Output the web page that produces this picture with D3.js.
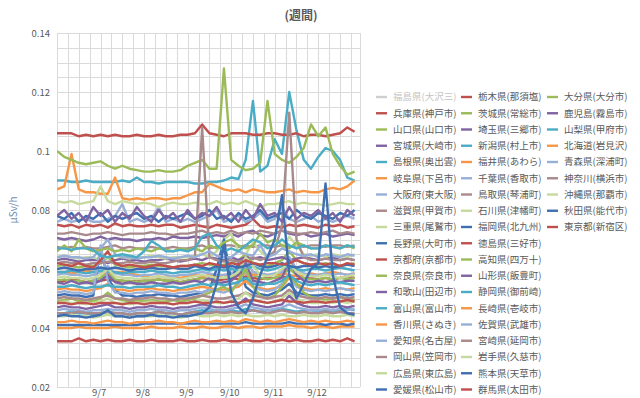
<!DOCTYPE html>
<html>
<head>
<meta charset="utf-8">
<script src="https://cdn.jsdelivr.net/npm/d3@7"></script>
<style>
  body { margin: 0; background: #fff; }
  text { font-family: "Noto Sans CJK JP", "Noto Sans", sans-serif; }
</style>
</head>
<body>
<svg id="chart" width="640" height="398"></svg>
<script>
// readings every 4 hours from 9/6 01:00, in nSv/h (= uSv/h x 1000)
var fukushima = [188,189,188,190,189,188, 189,192,190,189,188,188, 188,189,188,188,187,188, 188,189,190,189,190,193, 191,190,194,191,189,188, 189,191,195,190,189,188, 188,189,188,188,189,188];
var hyogo     = [75,74.5,75,74,75,74.5, 75,74,75.5,74.5,75,74.5, 74.5,75,74.5,75,75,74, 74.5,75,74.5,74,75,74.5, 74,74.5,75,77,74.5,74, 74.5,74,75,74.5,75,74.5, 74,75,74.5,75,74,74.5];
var yamaguchi = [61,61.5,61,60.5,61,61, 62,64,61.5,61,60.5,61, 61,61.5,61,61,60.5,61, 61,61.5,62,61.5,61,61.5, 62,63,65,62,61.5,61, 62,63,66,63,62,61.5, 61.5,62,61.5,61,61.5,62];
var miyagi    = [70.5,70,70.5,70,69.5,70, 71,70,70.5,70,70,69.5, 70,70,70.5,70,71,70.5, 70.5,71,70.5,71,71.5,71, 72,71,72.5,73,71.5,71, 72,73,72,71.5,72,71, 71.5,72,71,71.5,72,71.5];
var shimane   = [90,90,89.5,89.5,90,89.5, 89.5,89.5,89.5,90,89.5,91, 89.5,89.5,89,89.5,89.5,89.5, 89.5,89,89,89.5,89.5,90, 91,90.5,97,117,93,95, 104,99,120,107,97,94, 98,101,100,97,91,90];
var gifu      = [87,88,99,87,86,86, 85.5,85.5,91,84,83.5,84, 83.5,84,84,83.5,84,84, 85,86,86,89,88,87, 86.5,87,86,87,86.5,86, 86,86.5,87,86,86.5,86, 86,87,87.5,87,88,90];
var osaka     = [76,77,76,76.5,77,76, 76,77,78,82,76,77, 76,77,81,76,77,76, 77,76,77,78,80,76, 77,78,76,77,79,76, 77,81,77,76,77,78, 76,77,76,77,78,77];
var shiga     = [72,72,72.5,72,71.5,72, 72,72.5,72,71.5,72,72, 72,72.5,72,72,71.5,72, 72,72.5,73,72,72.5,72, 73,72,72.5,72,73,72.5, 72,73,72.5,72,72,72.5, 72,72.5,73,72,72.5,72];
var mie       = [83,82.5,83,82,82.5,83, 88,83,82,83,82.5,82, 82.5,82,81,82,82.5,82, 82,82.5,82,82,83,82, 82.5,82,83,82,81,82, 82,82.5,83,82,82.5,82, 82,81.5,82,82.5,82,82];
var nagano    = [78,77,79,76,78,77, 79,76,78,77,78,79, 77,78,76,78,77,78, 79,77,78,80,77,78, 76,79,77,78,80,77, 78,79,77,80,78,77, 79,78,77,79,78,80];
var kyoto     = [56,56,56.5,56,55.5,56, 56,56.5,56,56,55.5,56, 56,56,56.5,56,56,55.5, 56,56.5,57,56.5,56,56.5, 57,56.5,57.5,57,56.5,57, 57,57.5,57,56.5,57,57, 56.5,57,56.5,57,57.5,57];
var nara      = [56,56.5,56,56,55.5,56, 57,59,56.5,56,56,55.5, 56,56,56.5,56,56,55.5, 56,56.5,57,56.5,57,57, 57.5,58,60,58,57,56.5, 57,58,60,58,57,56.5, 56.5,57,56.5,57,56.5,57];
var wakayama  = [63,63.5,63,62.5,63,63, 63,62,63,63.5,63,63, 62.5,63,63,63.5,63,62.5, 63,63.5,63,64,63.5,63, 64,63,64,63.5,64,63, 63.5,64,63,63.5,64,63.5, 63,63.5,64,63,63.5,63];
var toyama    = [45,45,45.5,45,45,44.5, 45,45.5,45,45,44.5,45, 45,45,45.5,45,45,44.5, 45,45.5,46,45.5,46,45.5, 46,45.5,46.5,46,45.5,46, 46,46.5,46,45.5,46,46, 45.5,46,45.5,46,46.5,46];
var kagawa    = [59,59,58.5,59,59.5,59, 59,58.5,59,59,58.5,58, 57.5,57,57.5,57,57.5,57, 57.5,58,57.5,58,57.5,58, 58,57.5,58.5,58,58.5,58, 58,58.5,58,57.5,58,58.5, 58,58.5,59,58.5,58,58.5];
var aichi     = [58,58.5,58,58,57.5,58, 59,61,58.5,58,58,57.5, 58,58,58.5,58,57.5,58, 58,58.5,59,58.5,58,58, 58.5,60,63,59,58.5,58, 58.5,59,64,60,58.5,58, 58,58.5,58,58.5,58,58.5];
var okayama   = [67.5,67,67.5,67,67.5,67, 67,67.5,68,67,67.5,67, 67,67.5,67,67,67.5,67, 67,67.5,68,67,67.5,68, 68,67.5,68,67.5,68,68, 67.5,68,67.5,68,67.5,68, 68,67.5,68,68,67.5,68];
var hiroshima = [64,64.5,64,63.5,64,64, 63,64,64.5,64,63.5,64, 64,64.5,64,63.5,64,64, 64,64.5,65,64,66,70, 72,66,65,69,66,64, 65,67,71,68,65,64.5, 65,64,65,64.5,64,65];
var ehime     = [51,51.5,51,51,50.5,51, 67,57,53,51,51,50.5, 51,51,51.5,51,51,50.5, 51,51.5,52,53,60,70, 56,62,54,52,51.5,51, 52,53,55,52,51.5,51, 51,51.5,51,51.5,51,51.5];
var tochigi   = [106,106,106,105,105.5,105, 105.5,105,105.5,105,105,105.5, 105,105,105.5,105,105,105.5, 105.5,106,109,106,105.5,105, 106,106,106,105.5,105.5,106, 106,105.5,105.5,106,105,105.5, 105.5,105,105.5,106,108,106.5];
var ibaraki   = [100,98,97,96,95.5,96, 96.5,95,94,95,94,93.5, 93,93,93.5,93,93,93.5, 95,96,97,94,94,128, 97,95,93.5,94,96,117, 99,97,96,98,101,109, 105,108,99,95,92,93];
var saitama   = [55.5,55,56,55,55.5,55, 56,58,55.5,55,55.5,55, 55,55.5,55,55,55.5,55, 55.5,56,55.5,57,55,55.5, 56,58,62,56,55.5,55, 56,57,63,58,56,55.5, 56,55.5,56,55.5,56,56];
var niigata   = [59,59,59.5,59,58.5,59, 59.5,59,59,58.5,59,59, 59,59.5,59,59,58.5,59, 59,59.5,60,59.5,60,59.5, 60,59.5,60,61,60,59.5, 60,61,60.5,60,59.5,60, 60,59.5,60,60.5,60,59.5];
var fukui     = [53,53.5,53,53,52.5,53, 53.5,55,53,53,52.5,53, 53,53.5,53,53,52.5,53, 53,53.5,54,53.5,53,53, 53.5,54,56,54,53.5,53, 53.5,54,57,55,53.5,53, 53,53.5,53,53.5,53,53.5];
var chiba     = [52,52.5,52,52,51.5,52, 68,56,52,52,51.5,52, 52,52.5,52,52,51.5,52, 52,52.5,52,53,52.5,52, 53,55,60,54,53,52.5, 53,55,58,54,53,52.5, 53,52.5,53,53.5,53,52.5];
var tottori   = [62,62.5,62,62,61.5,62, 62,62.5,62,62,62.5,62, 62,62.5,62,62,62.5,63, 63,64,108,64,63,62.5, 63,62.5,63,64,63,64, 66,75,113,70,64,63, 63,63.5,63,63,63.5,63];
var ishikawa  = [57,57.5,57,57,56.5,57, 58,60,57.5,57,57,56.5, 57,57,57.5,57,57,56.5, 57,57.5,58,57.5,57,57, 57.5,59,64,61,58,57.5, 58,60,62,59,58,57.5, 57.5,58,57.5,57,57.5,58];
var fukuoka   = [60,60.5,60,59.5,60,60, 60.5,60,60.5,60,59.5,60, 60,60.5,60,60,60.5,60, 60,61,60.5,60,61,60.5, 61,60.5,61,62,61,60.5, 61,62,61,60.5,61,61, 60.5,61,60.5,61,61.5,61];
var tokushima = [62,61.5,61,62,61,60.5, 63,66,62,61,61.5,61, 60.5,61,61.5,61,60.5,61, 61,61.5,61,62,61.5,61, 62,61.5,63,62,61.5,62, 62,61.5,62,63,62,61.5, 62,61.5,62,61,62,61.5];
var kochi     = [49,49.5,50,49,49.5,49, 50,52,50,49.5,49,49.5, 49,49.5,49,49,49.5,49, 49.5,50,51,52,53,54, 52,56,60,54,51,50, 51,54,58,55,52,50.5, 50,49.5,50,50.5,50,49.5];
var yamagata  = [47,47.5,47,47,46.5,47, 47.5,48,47,47,46.5,47, 47,47.5,47,47,46.5,47, 47,47.5,48,47.5,47,47, 47.5,48,50,48,47.5,47, 47.5,48,51,48.5,47.5,47, 47,47.5,47,47.5,47,47.5];
var shizuoka  = [54,54,54.5,54,53.5,54, 54,54.5,54,54,53.5,54, 54,54,54.5,54,54,53.5, 54,54.5,55,54.5,55,54.5, 55,55.5,57,55,54.5,55, 55,56,58,56,55,54.5, 55,54.5,55,55.5,55,54.5];
var nagasaki  = [40,40,40,40.5,40,40, 40,40,40.5,40,40,40, 40,40.5,40,40,40,40.5, 40,40,40.5,40,40,40.5, 40.5,40,40.5,40.5,40,40.5, 40.5,40.5,41,40.5,40.5,40, 40.5,40.5,40,40.5,40.5,40.5];
var saga      = [64,64.5,64,64,63.5,64, 67,70,65,64,64,63.5, 64,64,64.5,64,63.5,64, 64.5,64,65,66,64.5,64, 64,66,65,64.5,68,64, 65,67,66,65,64.5,65, 64,65,64.5,64,65,64.5];
var miyazaki  = [50,50.5,50,50,49.5,50, 50.5,51,50,50,49.5,50, 50,50.5,50,50,49.5,50, 50,50.5,51,50.5,50,50, 50.5,51,52,51,50.5,50, 50.5,51,53,51,50.5,50, 50,50.5,50,50.5,50,50.5];
var iwate     = [48.5,49,48.5,48.5,48,48.5, 49,50,48.5,48.5,48,48.5, 48.5,49,48.5,48.5,48,48.5, 48.5,49,49.5,49,48.5,48.5, 49,50,52,50,49,48.5, 49,50,52,50,49,48.5, 48.5,49,48.5,49,48.5,49];
var kumamoto  = [41,41,41,41,41,41, 41,41,41,41,41,41, 41.5,41.5,41.5,41.5,41.5,41.5, 41.5,41.5,41.5,41.5,41.5,41.5, 41.5,41.5,42,41.5,41.5,41.5, 41.5,41.5,42,41.5,41.5,41.5, 41.5,41,41.5,41.5,41,41.5];
var gunma     = [48.5,48.5,48,48.5,48.5,48, 48.5,48.5,48.5,48,48.5,48.5, 48,48.5,48.5,48.5,48,48.5, 48.5,49,48.5,48.5,49,48.5, 49,48.5,49,49.5,49,48.5, 49,49.5,49,49,48.5,49, 49,48.5,49,49,49.5,49];
var oita      = [66,68,66,70,67,66, 66.5,67,66,66.5,66,67, 66.5,66,67,66.5,66,67, 66.5,67,66,68,67,69, 70,68,67,68,72,69, 70,68,67,69,68,67, 67,68,67.5,67,68,67];
var kagoshima = [78,80,77,79,76,81, 78,80,76,79,77,81, 78,76,80,77,79,76, 80,77,79,78,81,77, 79,76,80,77,82,78, 79,76,81,77,79,78, 80,77,79,76,80,78];
var yamanashi = [67,67,66.5,67,67,66.5, 64.5,64,64.5,65,64.5,64, 66,69.5,68,66,66,66.5, 66,67,71,72,68,66, 67,66,68,70,69,67, 68,70,68,67,68,67, 67,68,67.5,67,68,67.5];
var hokkaido  = [42,42,42.5,42,42,41.5, 42,42.5,42,42,41.5,42, 42,42,42.5,42,42,41.5, 42,42.5,42,42,42.5,42, 42.5,42,43,42.5,42,42.5, 42,42.5,43,42.5,42,42.5, 42,42.5,42,42,42.5,42];
var aomori    = [46,46.5,46,46,45.5,46, 46,46.5,46,46,45.5,46, 46,46.5,46,46,45.5,46, 46,46.5,47,46.5,46,46, 46.5,47,48,47,46.5,46, 46.5,47,48,47,46.5,46, 46,46.5,46,46.5,46,46.5];
var kanagawa  = [45,45,45,45.5,45,45, 45,45.5,45,45,44.5,45, 45,45,45.5,45,45,44.5, 45,45.5,45,45,45.5,45, 45.5,45,45.5,46,45.5,45, 45.5,46,45.5,45,45.5,45, 45,45.5,45,45.5,45,45];
var okinawa   = [44,44,44.5,44,44,43.5, 44,44.5,44,44,43.5,44, 44,44,44.5,44,44,43.5, 44,44.5,44,44,44.5,44, 44.5,44,44.5,44,44,44.5, 44,44.5,44,44,44.5,44, 44,44.5,44,44,44.5,44];
var akita     = [44,44.5,44,44,43.5,44, 44.5,46,44,44,43.5,44, 44,44.5,44,44,43.5,44, 44,44.5,45,47,55,68, 52,47,45,50,58,64, 70,85,58,50,55,60, 62,89,58,47,45,44.5];
var tokyo     = [35.5,35.5,35.5,36.5,35.5,36, 35.5,36,35.5,35.5,36,35.5, 35.5,36,35.5,35.5,35.5,36, 35.5,35.5,36,35.5,35.5,36, 35.5,35.5,36,35.5,35.5,36, 35.5,36,35.5,36,35.5,35.5, 36,35.5,36,35.5,36.5,35.5];

var seriesNames = ["福島県(大沢三)","兵庫県(神戸市)","山口県(山口市)","宮城県(大崎市)","島根県(奥出雲)","岐阜県(下呂市)","大阪府(東大阪)","滋賀県(甲賀市)","三重県(尾鷲市)","長野県(大町市)","京都府(京都市)","奈良県(奈良市)","和歌山(田辺市)","富山県(富山市)","香川県(さぬき)","愛知県(名古屋)","岡山県(笠岡市)","広島県(東広島)","愛媛県(松山市)",
  "栃木県(那須塩)","茨城県(常総市)","埼玉県(三郷市)","新潟県(村上市)","福井県(あわら)","千葉県(香取市)","鳥取県(琴浦町)","石川県(津幡町)","福岡県(北九州)","徳島県(三好市)","高知県(四万十)","山形県(飯豊町)","静岡県(御前崎)","長崎県(壱岐市)","佐賀県(武雄市)","宮崎県(延岡市)","岩手県(久慈市)","熊本県(天草市)","群馬県(太田市)",
  "大分県(大分市)","鹿児島(霧島市)","山梨県(甲府市)","北海道(岩見沢)","青森県(深浦町)","神奈川(横浜市)","沖縄県(那覇市)","秋田県(能代市)","東京都(新宿区)"];
var seriesValues = [fukushima,hyogo,yamaguchi,miyagi,shimane,gifu,osaka,shiga,mie,nagano,kyoto,nara,wakayama,toyama,kagawa,aichi,okayama,hiroshima,ehime,
  tochigi,ibaraki,saitama,niigata,fukui,chiba,tottori,ishikawa,fukuoka,tokushima,kochi,yamagata,shizuoka,nagasaki,saga,miyazaki,iwate,kumamoto,gunma,
  oita,kagoshima,yamanashi,hokkaido,aomori,kanagawa,okinawa,akita,tokyo];
var hiddenSeries = ["福島県(大沢三)"];   // off the scale, switched off in the legend
var dayLabels = ["9/7","9/8","9/9","9/10","9/11","9/12"];
var yTicks = [0.02,0.04,0.06,0.08,0.1,0.12,0.14];

var startTime = new Date(2013, 8, 6, 1);
var times = d3.range(42).map(function(i) { return d3.timeHour.offset(startTime, i * 4); });

var palette = ["#c0504d","#9bbb59","#8064a2","#4bacc6","#f79646","#98afd8","#a98a8c","#c6da9e","#3f6fb0"];
function colorOf(k) { return k === 0 ? "#cfcfcf" : palette[(k - 1) % palette.length]; }

var svg = d3.select("#chart");
var plotL = 57, plotR = 360, plotT = 33, plotB = 387;

var x = d3.scaleTime()
  .domain([startTime, new Date(2013, 8, 13, 0)])
  .range([plotL, plotR]);
var y = d3.scaleLinear().domain([0.02, 0.14]).range([plotB, plotT]);

// gridlines
var grid = svg.append("g");
grid.selectAll(".hg")
  .data(d3.range(0, 25).map(function(i) { return 0.02 + i * 0.005; }))
  .enter().append("line")
  .attr("x1", plotL).attr("x2", plotR)
  .attr("y1", function(d) { return Math.round(y(d)) + 0.5; })
  .attr("y2", function(d) { return Math.round(y(d)) + 0.5; })
  .attr("stroke", "#dadada").attr("stroke-width", 1);
grid.selectAll(".vg")
  .data(d3.range(0, 168, 6).map(function(h) { return d3.timeHour.offset(startTime, h); }).concat([x.domain()[1]]))
  .enter().append("line")
  .attr("x1", function(d) { return Math.round(x(d)) + 0.5; })
  .attr("x2", function(d) { return Math.round(x(d)) + 0.5; })
  .attr("y1", plotT).attr("y2", plotB)
  .attr("stroke", "#dadada").attr("stroke-width", 1);

// axes
var yAxis = d3.axisLeft(y).tickValues(yTicks).tickSize(0).tickPadding(7)
  .tickFormat(function(d) { return String(+d.toFixed(2)); });
svg.append("g").attr("transform", "translate(" + plotL + ",0)").call(yAxis)
  .call(function(g) { g.select(".domain").remove(); })
  .selectAll("text").attr("fill", "#595959").style("font-size", "9.5px");

var dayTimes = dayLabels.map(function(s, i) { return new Date(2013, 8, 7 + i); });
var xAxis = d3.axisBottom(x).tickValues(dayTimes).tickSize(0).tickPadding(2)
  .tickFormat(function(d, i) { return dayLabels[i]; });
svg.append("g").attr("transform", "translate(0," + plotB + ")").call(xAxis)
  .call(function(g) { g.select(".domain").remove(); })
  .selectAll("text").attr("fill", "#595959").style("font-size", "9.5px");

svg.append("text")
  .attr("transform", "translate(17," + ((plotT + plotB) / 2) + ") rotate(-90)")
  .attr("text-anchor", "middle")
  .attr("fill", "#6f8db3")
  .style("font-size", "10px")
  .text("μSv/h");

svg.append("text")
  .attr("x", 301).attr("y", 20)
  .attr("text-anchor", "middle")
  .attr("fill", "#595959")
  .style("font-size", "12px")
  .style("font-weight", "bold")
  .text("(週間)");

// lines
svg.append("clipPath").attr("id", "plotclip").append("rect")
  .attr("x", plotL).attr("y", plotT).attr("width", plotR - plotL).attr("height", plotB - plotT);

var line = d3.line()
  .x(function(d, i) { return x(times[i]); })
  .y(function(d) { return y(d / 1000); });

svg.append("g").attr("clip-path", "url(#plotclip)")
  .selectAll("path")
  .data(seriesValues.map(function(v, k) { return { name: seriesNames[k], values: v, k: k }; })
    .filter(function(s) { return hiddenSeries.indexOf(s.name) < 0; }))
  .enter().append("path")
  .attr("d", function(s) { return line(s.values); })
  .attr("fill", "none")
  .attr("stroke", function(s) { return colorOf(s.k); })
  .attr("stroke-width", 2.4)
  .attr("stroke-linejoin", "round");

// legend, column by column
var colX = [376, 461, 547], rowH = 16.25, perCol = 19;
var legend = svg.append("g").selectAll("g")
  .data(seriesNames)
  .enter().append("g")
  .attr("transform", function(d, k) {
    return "translate(" + colX[Math.floor(k / perCol)] + "," + (97 + (k % perCol) * rowH) + ")";
  });
legend.append("line")
  .attr("x1", 0).attr("x2", 11)
  .attr("stroke", function(d, k) { return colorOf(k); })
  .attr("stroke-width", 2.4);
legend.append("text")
  .attr("x", 17).attr("dy", "0.35em")
  .attr("fill", function(d) { return hiddenSeries.indexOf(d) < 0 ? "#595959" : "#c4c4c4"; })
  .style("font-size", "9.5px")
  .text(function(d) { return d; });
</script>
</body>
</html>
